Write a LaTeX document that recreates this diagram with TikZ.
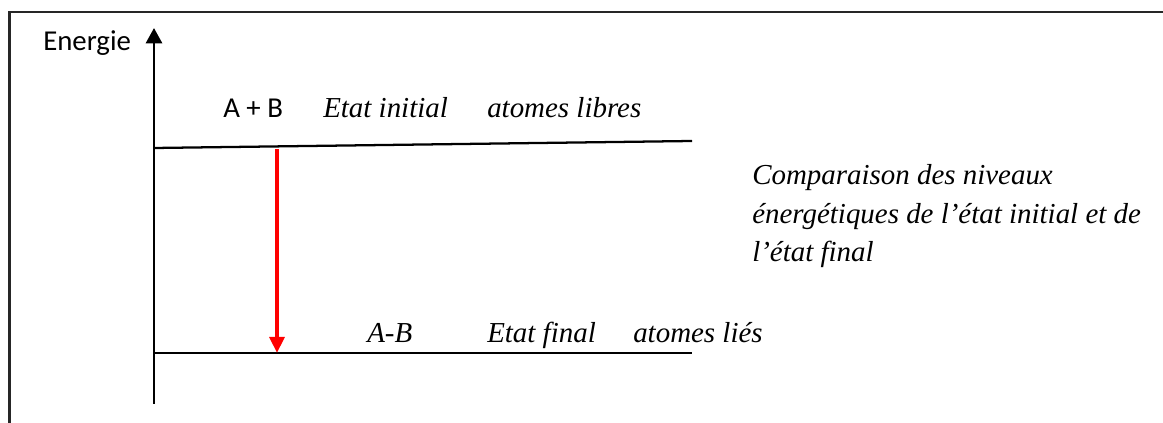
\documentclass[tikz,border=0pt]{standalone}
\usepackage{fontspec}
\setmainfont{Liberation Serif}
\newfontfamily\calib{Carlito}
\usetikzlibrary{arrows.meta}

\tikzset{
  lbl/.style={inner sep=0pt, anchor=base west, font=\fontsize{21.7pt}{26pt}\selectfont\itshape},
  slbl/.style={inner sep=0pt, anchor=base west, font=\fontsize{21.6pt}{26pt}\selectfont\calib},
  level/.style={line width=1.7pt, black},
  axisline/.style={line width=2.1pt, -{Triangle[width=12pt,length=11.5pt]}},
  transition/.style={line width=3pt, red, -{Triangle[width=11pt,length=12pt]}},
  frameline/.style={line width=2pt, black!85}
}

\begin{document}
\begin{tikzpicture}[x=0.75pt, y=-0.75pt]
  \useasboundingbox (0,0) rectangle (1163,423);

  % outer frame (open on the right and at the bottom)
  \draw[frameline] (9.5,423) -- (9.5,12) -- (1163,12);

  % energy axis
  \coordinate (axbot) at (154,404);
  \coordinate (axtop) at (154,28);
  \draw[axisline] (axbot) -- (axtop);
  \node[slbl] (energie) at (43,51) {Energie};

  % initial level
  \coordinate (ini0) at (154,148);
  \coordinate (ini1) at (692,141);
  \draw[level] (ini0) -- (ini1);
  \node[slbl] (ab) at (223,118) {A + B};
  \node[lbl] (etatini) at (323,118) {Etat initial};
  \node[lbl] (libres) at (487,118) {atomes libres};

  % final level
  \coordinate (fin0) at (154,353);
  \coordinate (fin1) at (692,353);
  \draw[level] (fin0) -- (fin1);
  \node[lbl] (amb) at (367,343) {A-B};
  \node[lbl] (etatfin) at (487,343) {Etat final};
  \node[lbl] (lies) at (633,343) {atomes liés};

  % transition between the two levels
  \coordinate (tr0) at (277,149);
  \coordinate (tr1) at (277,353);
  \draw[transition] (tr0) -- (tr1);

  % comment
  \node[lbl] (c1) at (752,185) {Comparaison des niveaux};
  \node[lbl] (c2) at (752,224) {énergétiques de l’état initial et de};
  \node[lbl] (c3) at (752,262) {l’état final};
\end{tikzpicture}
\end{document}
